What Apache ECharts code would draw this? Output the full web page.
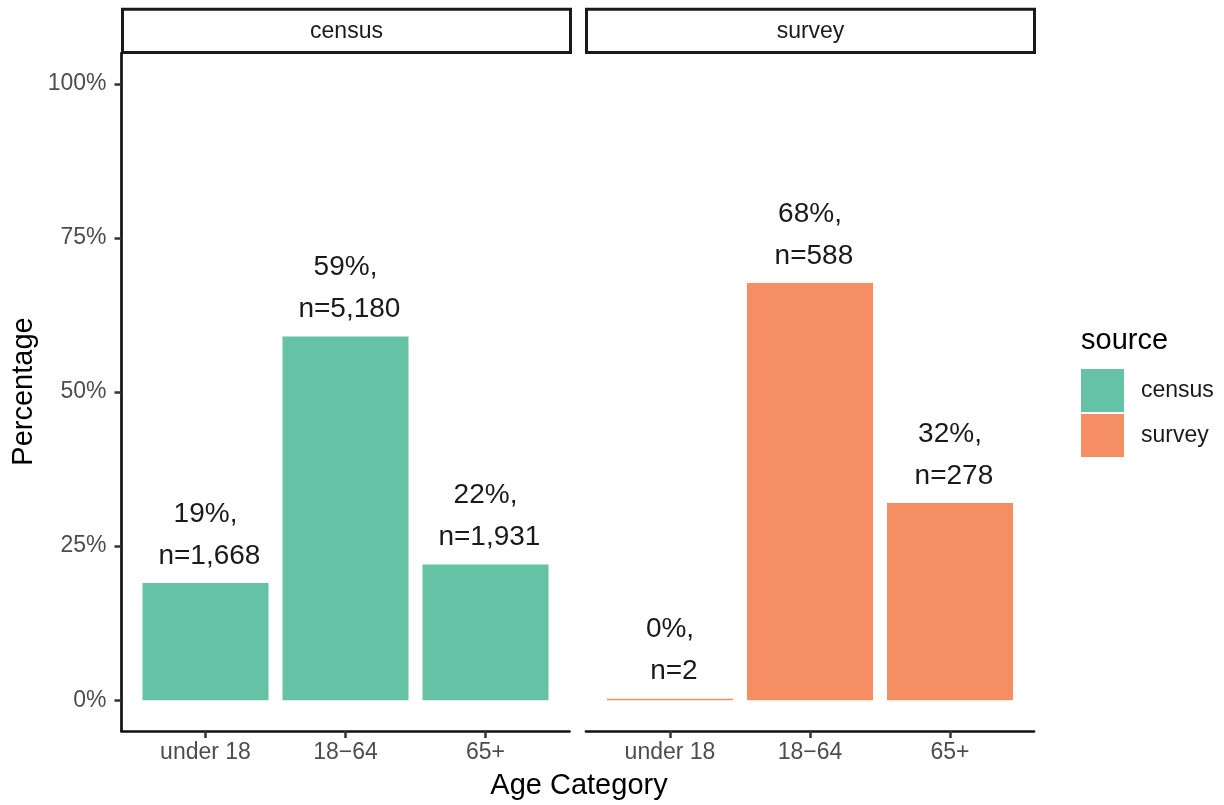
<!DOCTYPE html>
<html>
<head>
<meta charset="utf-8">
<script src="https://cdn.jsdelivr.net/npm/echarts@6/dist/echarts.min.js"></script>
<style>
html,body{margin:0;padding:0;background:#fff;}
#chart{width:1224px;height:805px;}
</style>
</head>
<body>
<div id="chart"></div>
<script>
// ---- data ----
const categories = ['under 18', '18\u221264', '65+'];
const panels = ['census', 'survey'];
const censusPct = [19.0, 59.0, 22.0];
const censusN = [1668, 5180, 1931];
const surveyPct = [0.23, 67.7, 32.0];
const surveyN = [2, 588, 278];
const yTicks = [0, 25, 50, 75, 100];
const xPositions = [1, 2, 3];

const colors = { census: '#66C2A5', survey: '#F68E64' };
const FONT = '"Liberation Sans", Arial, sans-serif';

function fmtN(n) { return n.toLocaleString('en-US'); }
function makeData(pct, ns) {
  return pct.map((p, i) => ({ value: [xPositions[i], p], n: ns[i] }));
}

const chart = echarts.init(document.getElementById('chart'), null, { renderer: 'canvas' });

const gridTop = 53, gridH = 678, gridW = 448;
const grids = [
  { left: 121.5, top: gridTop, width: gridW, height: gridH },
  { left: 586, top: gridTop, width: gridW, height: gridH }
];

function xAxis(idx) {
  return {
    type: 'value', gridIndex: idx, min: 0.4, max: 3.6,
    axisLine: { show: true, onZero: false, lineStyle: { color: '#111', width: 2.7 } },
    axisTick: { show: true, customValues: xPositions, length: 7, lineStyle: { color: '#333', width: 2.5 } },
    axisLabel: {
      customValues: xPositions, margin: 10, fontSize: 23, color: '#4d4d4d', fontFamily: FONT,
      formatter: v => categories[Math.round(v) - 1]
    },
    splitLine: { show: false }
  };
}
function yAxis(idx) {
  const show = idx === 0;
  return {
    type: 'value', gridIndex: idx, min: -5, max: 105,
    axisLine: { show: show, onZero: false, lineStyle: { color: '#111', width: 2.7 } },
    axisTick: { show: show, customValues: yTicks, length: 7, lineStyle: { color: '#333', width: 2.5 } },
    axisLabel: {
      show: show, customValues: yTicks, margin: 15, fontSize: 23, color: '#4d4d4d', fontFamily: FONT,
      formatter: v => v + '%'
    },
    splitLine: { show: false }
  };
}

const labelOpt = {
  show: true, position: 'top', distance: 6,
  fontSize: 28, lineHeight: 42, color: '#1a1a1a', fontFamily: FONT, align: 'center',
  formatter: p => Math.round(p.value[1]) + '%,\n n=' + fmtN(p.data.n)
};

function strip(x, text) {
  return {
    type: 'group', children: [
      { type: 'rect', shape: { x: x, y: 9.2, width: gridW, height: 43.3 },
        style: { fill: '#fff', stroke: '#1a1a1a', lineWidth: 3 } },
      { type: 'text', x: x + gridW / 2, y: 31.5,
        style: { text: text, font: '23px ' + FONT, fill: '#1a1a1a', align: 'center', verticalAlign: 'middle' } }
    ]
  };
}

chart.setOption({
  animation: false,
  backgroundColor: '#fff',
  grid: grids,
  xAxis: [xAxis(0), xAxis(1)],
  yAxis: [yAxis(0), yAxis(1)],
  legend: {
    orient: 'vertical', left: 1081, top: 369, itemWidth: 43, itemHeight: 43, itemGap: 2,
    icon: 'rect', padding: 0,
    data: panels,
    textStyle: { fontSize: 23, color: '#1a1a1a', fontFamily: FONT, padding: [0, 0, 0, 12] }
  },
  series: [
    { name: 'census', type: 'bar', xAxisIndex: 0, yAxisIndex: 0, barWidth: 126,
      itemStyle: { color: colors.census }, label: labelOpt, data: makeData(censusPct, censusN) },
    { name: 'survey', type: 'bar', xAxisIndex: 1, yAxisIndex: 1, barWidth: 126,
      itemStyle: { color: colors.survey }, label: labelOpt, data: makeData(surveyPct, surveyN) }
  ],
  graphic: [
    strip(122.5, panels[0]),
    strip(586.5, panels[1]),
    { type: 'text', x: 579, y: 786,
      style: { text: 'Age Category', font: '29px ' + FONT, fill: '#000', align: 'center', verticalAlign: 'middle' } },
    { type: 'text', x: 24, y: 391.5, rotation: Math.PI / 2,
      style: { text: 'Percentage', font: '29px ' + FONT, fill: '#000', align: 'center', verticalAlign: 'middle' } },
    { type: 'text', x: 1081, y: 341,
      style: { text: 'source', font: '29px ' + FONT, fill: '#000', align: 'left', verticalAlign: 'middle' } }
  ]
});
</script>
</body>
</html>
